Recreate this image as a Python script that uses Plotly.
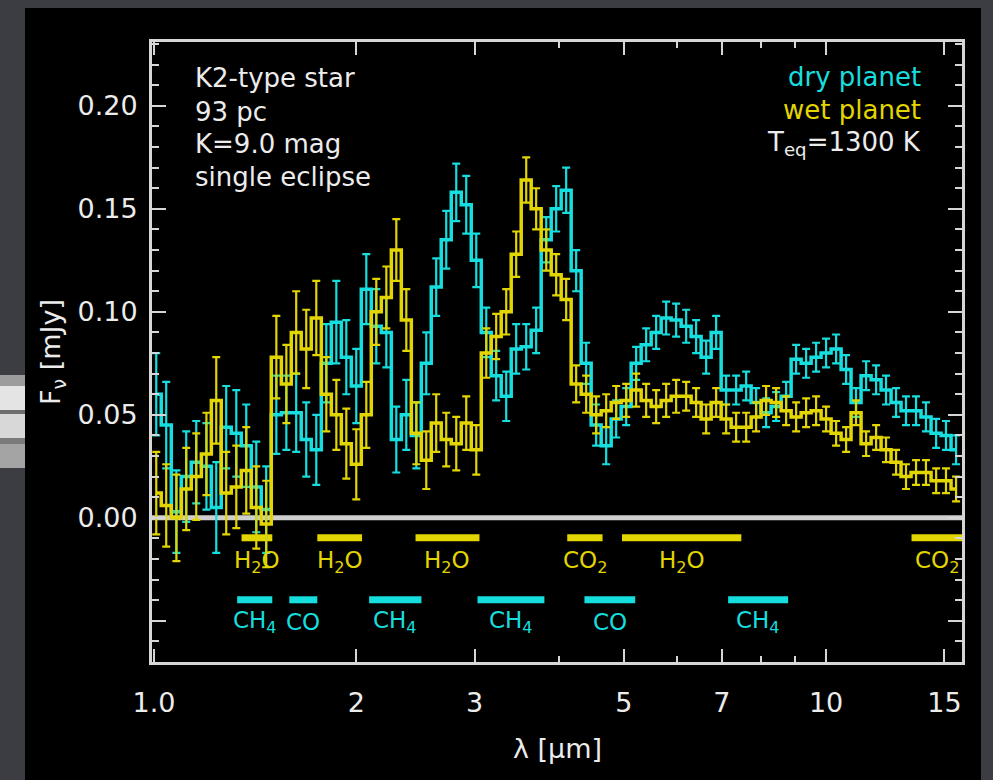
import math
import plotly.graph_objects as go

# ---------------- data ----------------
wavelength = [1.008, 1.043, 1.080, 1.117, 1.156, 1.197, 1.238, 1.281, 1.326, 1.372, 1.420, 1.469,
              1.521, 1.574, 1.628, 1.685, 1.744, 1.805, 1.868, 1.933, 2.000,
              2.070, 2.142, 2.217, 2.294, 2.374, 2.457, 2.542, 2.630, 2.722, 2.817, 2.915,
              3.017, 3.122, 3.230, 3.343, 3.459, 3.580, 3.704, 3.834, 3.967,
              4.105, 4.248, 4.396, 4.549, 4.708, 4.872,
              5.042, 5.217, 5.399, 5.587, 5.782, 5.983, 6.192, 6.407, 6.631, 6.862,
              7.101, 7.348, 7.605, 7.869, 8.143, 8.427, 8.721, 9.025, 9.339, 9.664,
              10.00, 10.35, 10.71, 11.08, 11.47, 11.87, 12.28, 12.71, 13.15, 13.61,
              14.08, 14.58, 15.08, 15.61]

dry_flux = [0.060, 0.045, 0.003, 0.020, 0.027, 0.025, 0.005, 0.044, 0.041, 0.035, 0.015, 0.004,
            0.050, 0.051, 0.051, 0.038, 0.033, 0.075, 0.095, 0.078, 0.064,
            0.111, 0.093, 0.090, 0.038, 0.050, 0.040, 0.075, 0.112, 0.135, 0.158, 0.152,
            0.125, 0.090, 0.069, 0.059, 0.082, 0.083, 0.091, 0.135, 0.150,
            0.159, 0.120, 0.075, 0.045, 0.035, 0.048,
            0.054, 0.075, 0.084, 0.090, 0.097, 0.096, 0.093, 0.088, 0.078, 0.090,
            0.062, 0.062, 0.064, 0.056, 0.051, 0.054, 0.059, 0.077, 0.075, 0.078,
            0.080, 0.082, 0.072, 0.056, 0.069, 0.067, 0.062, 0.056, 0.052, 0.052,
            0.049, 0.041, 0.040, 0.033]

wet_flux = [0.012, 0.006, 0.000, 0.014, 0.020, 0.031, 0.057, 0.012, 0.015, 0.023, 0.005, -0.003,
            0.078, 0.065, 0.090, 0.082, 0.097, 0.060, 0.050, 0.036, 0.026,
            0.050, 0.100, 0.107, 0.130, 0.096, 0.041, 0.028, 0.046, 0.038, 0.036, 0.046,
            0.033, 0.080, 0.088, 0.100, 0.128, 0.164, 0.150, 0.130, 0.118,
            0.106, 0.065, 0.060, 0.050, 0.052, 0.056,
            0.057, 0.062, 0.057, 0.054, 0.057, 0.059, 0.059, 0.056, 0.048, 0.056,
            0.048, 0.044, 0.044, 0.049, 0.057, 0.056, 0.052, 0.049, 0.051, 0.052,
            0.048, 0.041, 0.038, 0.051, 0.036, 0.039, 0.033, 0.027, 0.020, 0.022,
            0.022, 0.018, 0.018, 0.014]

dry_err = [0.020, 0.021, 0.020, 0.022, 0.020, 0.021, 0.022, 0.020, 0.021, 0.020, 0.022, 0.021,
           0.019, 0.018, 0.019, 0.018, 0.017, 0.019, 0.020, 0.018, 0.018,
           0.017, 0.018, 0.017, 0.016, 0.017, 0.016, 0.015, 0.014, 0.014, 0.014, 0.014,
           0.013, 0.012, 0.012, 0.012, 0.012, 0.011, 0.011, 0.011, 0.011,
           0.011, 0.010, 0.010, 0.010, 0.009, 0.009,
           0.009, 0.008, 0.008, 0.008, 0.008, 0.008, 0.008, 0.008, 0.008, 0.008,
           0.007, 0.007, 0.007, 0.007, 0.007, 0.007, 0.007, 0.007, 0.007, 0.007,
           0.007, 0.007, 0.007, 0.007, 0.007, 0.007, 0.007, 0.007, 0.007, 0.007,
           0.007, 0.007, 0.007, 0.007]

wet_err = [0.020, 0.020, 0.021, 0.020, 0.021, 0.020, 0.021, 0.020, 0.020, 0.021, 0.020, 0.021,
           0.020, 0.019, 0.020, 0.019, 0.018, 0.018, 0.017, 0.017, 0.017,
           0.016, 0.016, 0.015, 0.015, 0.015, 0.015, 0.014, 0.014, 0.013, 0.013, 0.013,
           0.012, 0.012, 0.011, 0.011, 0.011, 0.011, 0.010, 0.010, 0.010,
           0.010, 0.009, 0.009, 0.009, 0.008, 0.008,
           0.008, 0.008, 0.008, 0.008, 0.008, 0.008, 0.007, 0.007, 0.007, 0.007,
           0.007, 0.007, 0.007, 0.007, 0.007, 0.007, 0.007, 0.007, 0.007, 0.007,
           0.006, 0.006, 0.006, 0.006, 0.006, 0.006, 0.006, 0.006, 0.006, 0.006,
           0.006, 0.006, 0.006, 0.006]

# molecular bands (wet: H2O / CO2 ; dry: CH4 / CO)
wet_band_start = [1.35, 1.75, 2.45, 4.12, 4.97, 13.4]
wet_band_end = [1.50, 2.04, 3.05, 4.65, 7.48, 15.93]
wet_band_label = ["H<sub>2</sub>O", "H<sub>2</sub>O", "H<sub>2</sub>O", "CO<sub>2</sub>",
                  "H<sub>2</sub>O", "CO<sub>2</sub>"]
dry_band_start = [1.33, 1.59, 2.09, 3.03, 4.37, 7.15]
dry_band_end = [1.50, 1.75, 2.50, 3.81, 5.20, 8.78]
dry_band_label = ["CH<sub>4</sub>", "CO", "CH<sub>4</sub>", "CH<sub>4</sub>", "CO", "CH<sub>4</sub>"]

x_tickvals = [1, 2, 3, 5, 7, 10, 15]
x_ticktext = ["1.0", "2", "3", "5", "7", "10", "15"]
x_minorvals = [4, 6, 8, 9]
y_tickvals = [-0.05, 0.0, 0.05, 0.10, 0.15, 0.20]
y_ticktext = ["", "0.00", "0.05", "0.10", "0.15", "0.20"]

info_lines = ["K2-type star", "93 pc", "K=9.0 mag", "single eclipse"]

# ---------------- style ----------------
CYAN = "#17dede"
YELLOW = "#e2d500"
WHITE = "#ececec"
AXC = "#d6d6d6"
FONT = "DejaVu Sans"

W, H = 993, 780
L, R, T, B = 152, 962, 42, 662   # plot area in pixels


def px(xp):
    return (xp - L) / (R - L)


def py(yp):
    return (B - yp) / (B - T)


fig = go.Figure()

# band bars
for s, e in zip(wet_band_start, wet_band_end):
    fig.add_trace(go.Scatter(x=[s, e], y=[-0.0097, -0.0097], mode="lines",
                             line=dict(color=YELLOW, width=7), hoverinfo="skip", showlegend=False))
for s, e in zip(dry_band_start, dry_band_end):
    fig.add_trace(go.Scatter(x=[s, e], y=[-0.0398, -0.0398], mode="lines",
                             line=dict(color=CYAN, width=7), hoverinfo="skip", showlegend=False))

# spectra
fig.add_trace(go.Scatter(x=wavelength, y=dry_flux, mode="lines", line_shape="hvh",
                         line=dict(color=CYAN, width=3.5),
                         error_y=dict(type="data", array=dry_err, color=CYAN, thickness=2.2, width=4),
                         name="dry planet", showlegend=False))
fig.add_trace(go.Scatter(x=wavelength, y=wet_flux, mode="lines", line_shape="hvh",
                         line=dict(color=YELLOW, width=3.5),
                         error_y=dict(type="data", array=wet_err, color=YELLOW, thickness=2.2, width=4),
                         name="wet planet", showlegend=False))

annotations = []
for s, e, lab in zip(wet_band_start, wet_band_end, wet_band_label):
    annotations.append(dict(x=(math.log10(s) + math.log10(e)) / 2, y=-0.0214, xref="x", yref="y",
                            text=lab, showarrow=False, font=dict(family=FONT, size=23, color=YELLOW),
                            xanchor="center", yanchor="middle"))
for s, e, lab in zip(dry_band_start, dry_band_end, dry_band_label):
    annotations.append(dict(x=(math.log10(s) + math.log10(e)) / 2, y=-0.0505, xref="x", yref="y",
                            text=lab, showarrow=False, font=dict(family=FONT, size=23, color=CYAN),
                            xanchor="center", yanchor="middle"))

for line, ypx in zip(info_lines, [78, 112, 144, 177]):
    annotations.append(dict(x=px(193), y=py(ypx), xref="paper", yref="paper", text=line,
                            showarrow=False, xanchor="left", yanchor="middle",
                            font=dict(family=FONT, size=26, color=WHITE)))

for text, col, ypx in [("dry planet", CYAN, 77), ("wet planet", YELLOW, 110),
                       ("T<sub>eq</sub>=1300 K", WHITE, 143)]:
    annotations.append(dict(x=px(923), y=py(ypx), xref="paper", yref="paper", text=text,
                            showarrow=False, xanchor="right", yanchor="middle",
                            font=dict(family=FONT, size=26, color=col)))

annotations.append(dict(x=0.5, y=py(748), xref="paper", yref="paper", text="λ [μm]",
                        showarrow=False, xanchor="center", yanchor="middle",
                        font=dict(family=FONT, size=27, color=WHITE)))
annotations.append(dict(x=px(52), y=py(352), xref="paper", yref="paper",
                        text="F<sub>ν</sub> [mJy]", textangle=-90,
                        showarrow=False, xanchor="center", yanchor="middle",
                        font=dict(family=FONT, size=27, color=WHITE)))

GRAY = "#3c3d42"
shapes = [
    # zero line
    dict(type="line", xref="paper", yref="y", x0=0, x1=1, y0=0, y1=0,
         line=dict(color="#cfcfcf", width=5), layer="below"),
    # outer gray frame around the black panel
    dict(type="rect", xref="paper", yref="paper", x0=px(0), x1=px(25), y0=py(780), y1=py(0),
         fillcolor=GRAY, line_width=0, layer="below"),
    dict(type="rect", xref="paper", yref="paper", x0=px(0), x1=px(993), y0=py(8), y1=py(0),
         fillcolor=GRAY, line_width=0, layer="below"),
    dict(type="rect", xref="paper", yref="paper", x0=px(981), x1=px(993), y0=py(780), y1=py(0),
         fillcolor=GRAY, line_width=0, layer="below"),
]
# metallic tab on the left
for y0, y1, c in [(375, 386, "#9c9c9c"), (386, 410, "#e4e4e4"), (410, 414, "#6e6e6e"),
                  (414, 438, "#d8d8d8"), (438, 444, "#7a7a7a"), (444, 468, "#a4a4a4")]:
    shapes.append(dict(type="rect", xref="paper", yref="paper", x0=px(0), x1=px(25),
                       y0=py(y1), y1=py(y0), fillcolor=c, line_width=0, layer="below"))

fig.update_layout(
    width=W, height=H,
    margin=dict(l=L, r=W - R, t=T, b=H - B, pad=0),
    paper_bgcolor="#000000", plot_bgcolor="#000000",
    showlegend=False,
    annotations=annotations,
    shapes=shapes,
    xaxis=dict(type="log", range=[math.log10(0.9934), math.log10(15.93)],
               tickmode="array", tickvals=x_tickvals, ticktext=x_ticktext,
               ticks="inside", ticklen=13, tickwidth=2, tickcolor=AXC,
               showline=True, linecolor=AXC, linewidth=3, mirror="ticks",
               showgrid=False, zeroline=False, ticklabelstandoff=15,
               minor=dict(tickmode="array", tickvals=x_minorvals, ticks="inside",
                          ticklen=6, tickwidth=2, tickcolor=AXC, showgrid=False),
               tickfont=dict(family=FONT, size=27, color=WHITE)),
    yaxis=dict(range=[-0.07, 0.231],
               tickmode="array", tickvals=y_tickvals, ticktext=y_ticktext,
               ticks="inside", ticklen=14, tickwidth=2, tickcolor=AXC,
               showline=True, linecolor=AXC, linewidth=3, mirror="ticks",
               showgrid=False, zeroline=False, ticklabelstandoff=6,
               minor=dict(tick0=0, dtick=0.01, ticks="inside", ticklen=7, tickwidth=2,
                          tickcolor=AXC, showgrid=False),
               tickfont=dict(family=FONT, size=27, color=WHITE)),
)

fig.write_html("out.html")
